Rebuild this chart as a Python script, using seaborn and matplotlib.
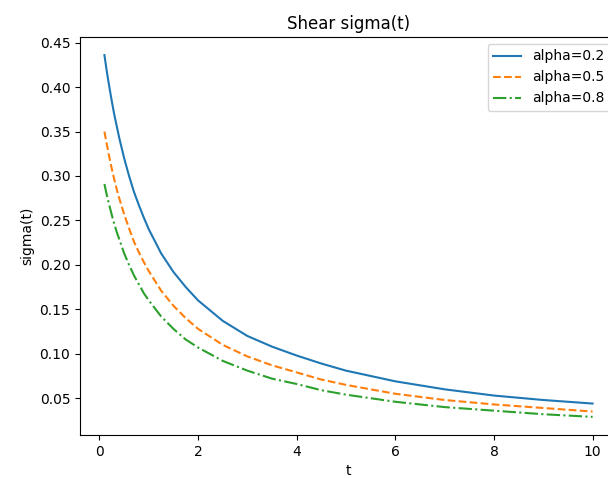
import pandas as pd
import seaborn as sns
import matplotlib.pyplot as plt

# values
t = [0.1, 0.15, 0.2, 0.25, 0.3, 0.35, 0.4, 0.5, 0.6, 0.7, 0.8, 0.9, 1.0, 1.25,
     1.5, 1.75, 2.0, 2.5, 3.0, 3.5, 4.0, 4.5, 5.0, 6.0, 7.0, 8.0, 9.0, 10.0]
sigma_02 = [0.436, 0.417, 0.400, 0.384, 0.369, 0.356, 0.343, 0.320, 0.300, 0.282,
            0.267, 0.253, 0.240, 0.213, 0.192, 0.175, 0.160, 0.137, 0.120, 0.108,
            0.098, 0.089, 0.081, 0.069, 0.060, 0.053, 0.048, 0.044]
sigma_05 = [0.350, 0.335, 0.321, 0.308, 0.296, 0.285, 0.275, 0.257, 0.241, 0.226,
            0.214, 0.203, 0.193, 0.171, 0.154, 0.140, 0.128, 0.110, 0.097, 0.087,
            0.079, 0.071, 0.065, 0.055, 0.048, 0.043, 0.039, 0.035]
sigma_08 = [0.291, 0.278, 0.267, 0.256, 0.246, 0.237, 0.229, 0.213, 0.200, 0.188,
            0.178, 0.168, 0.160, 0.142, 0.128, 0.116, 0.107, 0.092, 0.081, 0.072,
            0.066, 0.059, 0.054, 0.046, 0.040, 0.036, 0.032, 0.029]
labels = ["alpha=0.2", "alpha=0.5", "alpha=0.8"]

rows = []
for lab, vals in zip(labels, [sigma_02, sigma_05, sigma_08]):
    for ti, v in zip(t, vals):
        rows.append({"t": ti, "sigma": v, "series": lab})
df = pd.DataFrame(rows)

plt.rcParams['font.family'] = ['DejaVu Sans']
plt.rcParams['font.size'] = 10

fig = plt.figure(figsize=(6.08, 4.78), dpi=100)
# the reference image is cropped on the right, so the axes run past the edge
ax = fig.add_axes([0.1316, 0.090, 0.8832, 0.8326])

colors = ["#1f77b4", "#ff7f0e", "#2ca02c"]
styles = ["-", "--", "-."]
for lab, c, ls in zip(labels, colors, styles):
    sub = df[df["series"] == lab]
    sns.lineplot(data=sub, x="t", y="sigma", color=c, linestyle=ls,
                 linewidth=1.5, label=lab, ax=ax)

ax.set_title("Shear sigma(t)", fontsize=12)
ax.set_xlabel("t")
ax.set_ylabel("sigma(t)")
ax.set_yticks([0.05, 0.10, 0.15, 0.20, 0.25, 0.30, 0.35, 0.40, 0.45])
ax.set_xticks([0, 2, 4, 6, 8, 10])
ax.legend(loc="upper right")

plt.savefig("out.png", dpi=100)
